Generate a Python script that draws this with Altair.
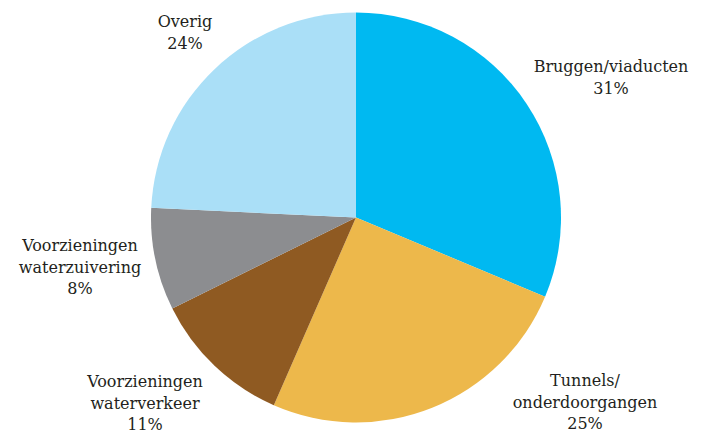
import altair as alt
import pandas as pd

categories = ["Bruggen/viaducten", "Tunnels/onderdoorgangen", "Voorzieningen waterverkeer",
              "Voorzieningen waterzuivering", "Overig"]
shares = [31, 25, 11, 8, 24]
colors = ["#00B9F1", "#EDB84B", "#8F5A22", "#8C8D90", "#AADFF7"]
label_text = ["Bruggen/viaducten\n31%", "Tunnels/\nonderdoorgangen\n25%",
              "Voorzieningen\nwaterverkeer\n11%", "Voorzieningen\nwaterzuivering\n8%",
              "Overig\n24%"]

# label anchor layout (pixels in the view, centre of first line)
label_x = [603, 577, 137, 72, 177]
label_y = [59, 373, 374, 238, 14]

df = pd.DataFrame({"cat": categories, "share": shares, "order": list(range(len(categories)))})
lab = pd.DataFrame({"text": label_text, "lx": label_x, "ly": label_y})

W, H = 686, 426
cx, cy, r = 348, 209.5, 205

pie = alt.Chart(df).mark_arc(outerRadius=r, strokeWidth=0).encode(
    theta=alt.Theta("share:Q", stack=True),
    color=alt.Color("cat:N", scale=alt.Scale(domain=categories, range=colors), legend=None),
    order=alt.Order("order:Q"),
    x=alt.value(cx),
    y=alt.value(cy),
)

labels = alt.Chart(lab).mark_text(
    lineBreak="\n", font="DejaVu Serif", fontSize=16, lineHeight=21.5,
    color="#231F20", align="center", baseline="middle",
).encode(
    x=alt.X("lx:Q", scale=None),
    y=alt.Y("ly:Q", scale=None),
    text="text:N",
)

chart = alt.layer(pie, labels).properties(
    width=W, height=H, padding=0, autosize="none"
).configure_view(strokeWidth=0, stroke="transparent")

chart.save("out.html", embed_options={"renderer": "svg", "actions": False})
